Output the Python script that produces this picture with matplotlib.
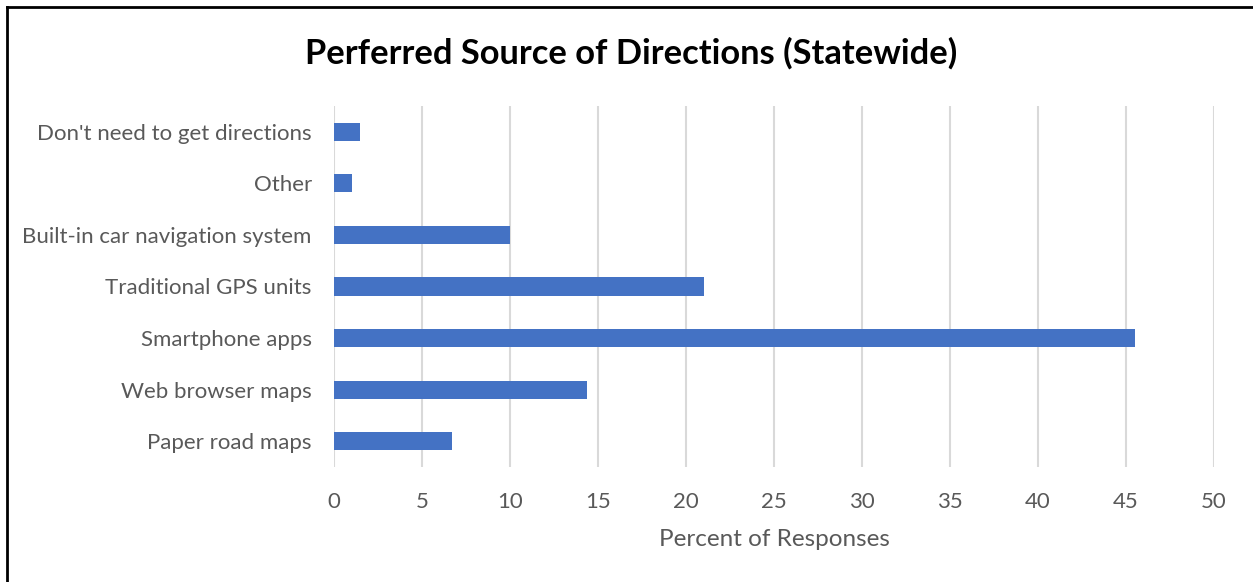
import matplotlib.pyplot as plt
from matplotlib.lines import Line2D

categories = [
    "Paper road maps",
    "Web browser maps",
    "Smartphone apps",
    "Traditional GPS units",
    "Built-in car navigation system",
    "Other",
    "Don't need to get directions",
]
percent = [6.7, 14.4, 45.5, 21.0, 10.0, 1.0, 1.5]
xticks = [0, 5, 10, 15, 20, 25, 30, 35, 40, 45, 50]

plt.rcParams["font.family"] = ["Lato", "DejaVu Sans"]

fig = plt.figure(figsize=(12.53, 5.82), dpi=100)
ax = fig.add_axes([334 / 1253, 1 - 467 / 582, 880 / 1253, 361 / 582])

y = range(len(categories))
ax.barh(y, percent, height=0.35, color="#4472C4", zorder=3)

ax.set_xlim(0, 50)
ax.set_ylim(-0.5, len(categories) - 0.5)
ax.set_xticks(xticks)
ax.set_yticks(list(y))
ax.set_yticklabels(categories)
ax.tick_params(axis="both", length=0, labelsize=16, colors="#595959")
ax.tick_params(axis="x", pad=18)
ax.tick_params(axis="y", pad=16)
ax.grid(axis="x", color="#d9d9d9", linewidth=1.5, zorder=0)
for s in ax.spines.values():
    s.set_visible(False)

ax.set_xlabel("Percent of Responses", fontsize=17.5, color="#595959", labelpad=12)
fig.text(631 / 1253, 1 - 53 / 582, "Perferred Source of Directions (Statewide)",
         ha="center", va="center", fontsize=24.8, fontweight="bold", color="black")

# outer chart frame
fig.add_artist(Line2D([7 / 1253, 7 / 1253], [0, 1 - 7 / 582], color="black", lw=2))
fig.add_artist(Line2D([7 / 1253, 1], [1 - 7 / 582, 1 - 7 / 582], color="black", lw=2))

fig.savefig("out.png", dpi=100)
